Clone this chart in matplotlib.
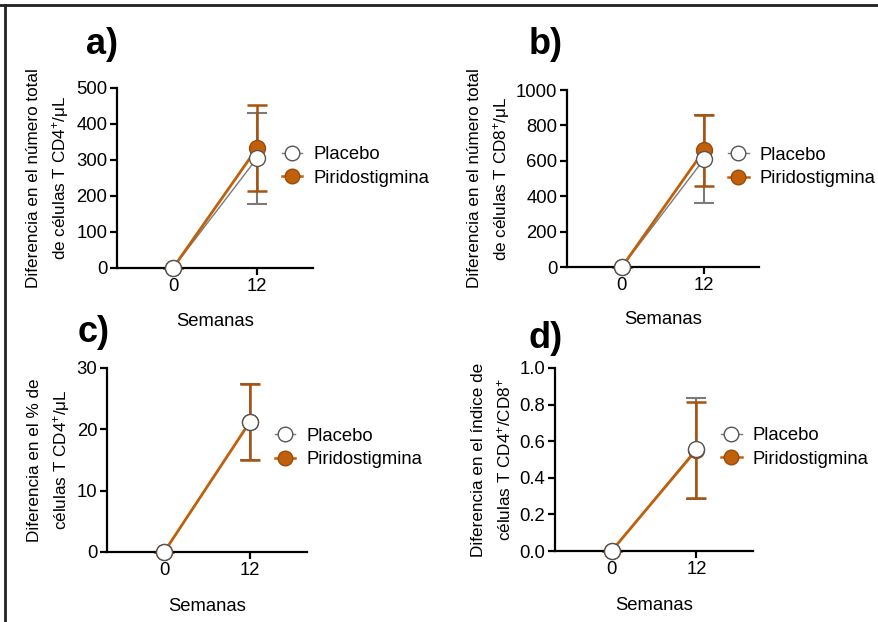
import matplotlib
matplotlib.use("Agg")
import matplotlib.pyplot as plt
from matplotlib.lines import Line2D

plt.rcParams['font.family'] = ['Liberation Sans', 'DejaVu Sans']
plt.rcParams['mathtext.fontset'] = 'custom'
plt.rcParams['mathtext.rm'] = 'Liberation Sans'
plt.rcParams['mathtext.it'] = 'Liberation Sans:italic'

# data
weeks = [0, 12]
week_labels = ['0', '12']

placebo_a = [0, 305]
placebo_a_err = [0, 126]
pirido_a = [0, 333]
pirido_a_err = [0, 119]

placebo_b = [0, 610]
placebo_b_err = [0, 250]
pirido_b = [0, 660]
pirido_b_err = [0, 200]

placebo_c = [0, 21.2]
placebo_c_err = [0, 6.2]
pirido_c = [0, 21.2]
pirido_c_err = [0, 6.2]

placebo_d = [0, 0.56]
placebo_d_err = [0, 0.275]
pirido_d = [0, 0.553]
pirido_d_err = [0, 0.262]

ORANGE = '#C0600A'
ORANGE_EDGE = '#9A4A0A'
ORANGE_BAR = '#A5530E'
GRAY = '#7a7a7a'

W, H = 879, 622
fig = plt.figure(figsize=(W / 100, H / 100), dpi=100)


def px_axes(left, right, top, bottom):
    return fig.add_axes([left / W, 1 - bottom / H, (right - left) / W, (bottom - top) / H])


panels = [
    dict(box=(117, 313, 88, 268), p=placebo_a, pe=placebo_a_err, q=pirido_a, qe=pirido_a_err,
         ylim=(0, 500), yticks=[0, 100, 200, 300, 400, 500], fmt='{:.0f}',
         ylabel='Diferencia en el número total\nde células T CD4$^{+}$/μL', ylx=-0.235,
         letter='a)', lxy=(86, 45)),
    dict(box=(567, 759, 90, 267), p=placebo_b, pe=placebo_b_err, q=pirido_b, qe=pirido_b_err,
         ylim=(0, 1000), yticks=[0, 200, 400, 600, 800, 1000], fmt='{:.0f}',
         ylabel='Diferencia en el número total\nde células T CD8$^{+}$/μL', ylx=-0.285,
         letter='b)', lxy=(529, 45)),
    dict(box=(107, 307, 368, 552), p=placebo_c, pe=placebo_c_err, q=pirido_c, qe=pirido_c_err,
         ylim=(0, 30), yticks=[0, 10, 20, 30], fmt='{:.0f}',
         ylabel='Diferencia en el % de\ncélulas T CD4$^{+}$/μL', ylx=-0.175,
         letter='c)', lxy=(78, 332)),
    dict(box=(555, 753, 368, 551), p=placebo_d, pe=placebo_d_err, q=pirido_d, qe=pirido_d_err,
         ylim=(0, 1.0), yticks=[0, 0.2, 0.4, 0.6, 0.8, 1.0], fmt='{:.1f}',
         ylabel='Diferencia en el índice de\ncélulas T CD4$^{+}$/CD8$^{+}$', ylx=-0.21,
         letter='d)', lxy=(529, 338)),
]

for pn in panels:
    ax = px_axes(*pn['box'])
    # error bars: placebo below, pirido above
    ax.errorbar(weeks, pn['p'], yerr=pn['pe'], fmt='none', ecolor=GRAY,
                elinewidth=1.5, capsize=7, capthick=1.5, clip_on=False, zorder=1)
    ax.errorbar(weeks, pn['q'], yerr=pn['qe'], fmt='none', ecolor=ORANGE_BAR,
                elinewidth=1.8, capsize=7, capthick=1.8, clip_on=False, zorder=2)
    ax.plot(weeks, pn['p'], color=GRAY, lw=1, zorder=2.5, clip_on=False)
    ax.plot(weeks, pn['q'], color=ORANGE, lw=2, zorder=2.6, clip_on=False)
    ax.plot(weeks, pn['q'], ls='none', marker='o', ms=11.5, mfc=ORANGE, mec=ORANGE_EDGE,
            mew=1, zorder=3, clip_on=False)
    ax.plot(weeks, pn['p'], ls='none', marker='o', ms=11.5, mfc='white', mec='#555555',
            mew=1, zorder=4, clip_on=False)
    ax.set_xlim(-8, 20)
    ax.set_ylim(*pn['ylim'])
    ax.set_xticks(weeks)
    ax.set_xticklabels(week_labels)
    ax.set_yticks(pn['yticks'])
    ax.set_yticklabels([pn['fmt'].format(v) for v in pn['yticks']])
    for s in ['top', 'right']:
        ax.spines[s].set_visible(False)
    for s in ['left', 'bottom']:
        ax.spines[s].set_linewidth(1.6)
    ax.tick_params(width=1.6, length=5, labelsize=13.3, pad=2)
    ax.set_ylabel(pn['ylabel'], fontsize=12.3, linespacing=1.6)
    ax.yaxis.set_label_coords(pn['ylx'], 0.5)
    ax.set_xlabel('Semanas', fontsize=13.3, va='top')
    ax.xaxis.set_label_coords(0.5, -0.25)

    handles = [
        Line2D([], [], color=GRAY, lw=1, marker='o', ms=10.5, mfc='white', mec='#555555', mew=1),
        Line2D([], [], color=ORANGE, lw=1.8, marker='o', ms=10.5, mfc=ORANGE, mec=ORANGE_EDGE, mew=1),
    ]
    ax.legend(handles, ['Placebo', 'Piridostigmina'], loc='center left',
              bbox_to_anchor=(0.84, 0.565), frameon=False, fontsize=13.3,
              handlelength=1.1, handletextpad=0.6, labelspacing=0.35,
              borderpad=0, borderaxespad=0)

    fig.text(pn['lxy'][0] / W, 1 - pn['lxy'][1] / H, pn['letter'], fontsize=26,
             fontweight='bold', va='center', ha='left')

# frame lines on top and left edges
fig.add_artist(Line2D([0, 1], [1 - 5 / H, 1 - 5 / H], color='#222222', lw=2))
fig.add_artist(Line2D([5 / W, 5 / W], [0, 1 - 5 / H], color='#222222', lw=2))

fig.savefig('out.png', dpi=100)
